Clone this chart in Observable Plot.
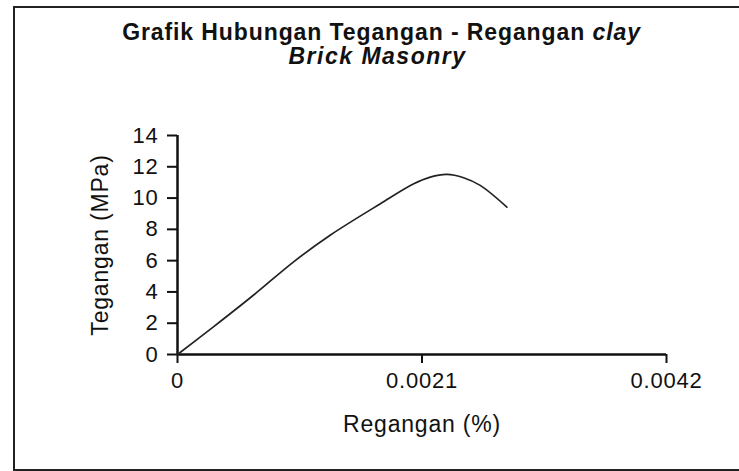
<!DOCTYPE html>
<html>
<head>
<meta charset="utf-8">
<script src="https://cdn.jsdelivr.net/npm/d3@7"></script>
<script src="https://cdn.jsdelivr.net/npm/@observablehq/plot@0.6"></script>
<style>
  html, body { margin: 0; padding: 0; background: #fff; }
  body { width: 739px; height: 471px; position: relative; overflow: hidden; font-family: "Liberation Sans", Arial, sans-serif; }
  #frame { position: absolute; left: 13px; top: 6px; width: 760px; height: 461px; border: 2.5px solid #222; box-sizing: content-box; }
  .t { position: absolute; left: 0; text-align: center; font-weight: bold; color: #111; font-size: 23px; letter-spacing: 0.9px; white-space: nowrap; }
  #chart { position: absolute; left: 0; top: 0; }
</style>
</head>
<body>
<div id="frame"></div>
<div class="t" id="t1" style="top:19px; width:763px;">Grafik Hubungan Tegangan - Regangan <i>clay</i></div>
<div class="t" id="t2" style="top:43px; width:755px; letter-spacing:1.5px;"><i>Brick Masonry</i></div>
<div id="chart"></div>
<script>
const strain = [0, 0.000314, 0.000657, 0.001, 0.001314, 0.001743, 0.002029, 0.002171, 0.002314, 0.002457, 0.0026, 0.002829];
const stress = [0, 1.8, 3.82, 5.94, 7.64, 9.64, 10.91, 11.34, 11.51, 11.30, 10.81, 9.42];
const xTicks = [0, 0.0021, 0.0042];
const yTicks = [0, 2, 4, 6, 8, 10, 12, 14];
const xTitle = "Regangan (%)";
const yTitle = "Tegangan (MPa)";

const data = strain.map((s, i) => ({x: s, y: stress[i]}));

const chart = Plot.plot({
  width: 739,
  height: 471,
  marginLeft: 177,
  marginRight: 73,
  marginTop: 135,
  marginBottom: 117,
  style: {fontFamily: "'Liberation Sans', Arial, sans-serif", fontSize: "22px", letterSpacing: "0.8px", color: "#111", background: "transparent"},
  x: {domain: [0, 0.0042]},
  y: {domain: [0, 14]},
  marks: [
    Plot.axisX(xTicks, {tickSize: 9, tickPadding: 9, strokeWidth: 2, stroke: "#111", fontSize: 22, tickFormat: d => d === 0 ? "0" : String(d), label: null}),
    Plot.axisY(yTicks, {tickSize: 10, tickPadding: 9, strokeWidth: 2, stroke: "#111", fontSize: 22, tickFormat: d => String(d), label: null}),
    Plot.ruleY([0], {stroke: "#111", strokeWidth: 2.5}),
    Plot.ruleX([0], {stroke: "#111", strokeWidth: 2.5}),
    Plot.line(data, {x: "x", y: "y", curve: "catmull-rom", stroke: "#222", strokeWidth: 1.7}),
    Plot.text([xTitle], {frameAnchor: "bottom", textAnchor: "middle", lineAnchor: "middle", dy: 70, fontSize: 23, fill: "#111"}),
    Plot.text([yTitle], {frameAnchor: "left", textAnchor: "middle", lineAnchor: "middle", dx: -77, rotate: -90, fontSize: 23, fill: "#111"})
  ]
});
document.getElementById("chart").appendChild(chart);
</script>
</body>
</html>
